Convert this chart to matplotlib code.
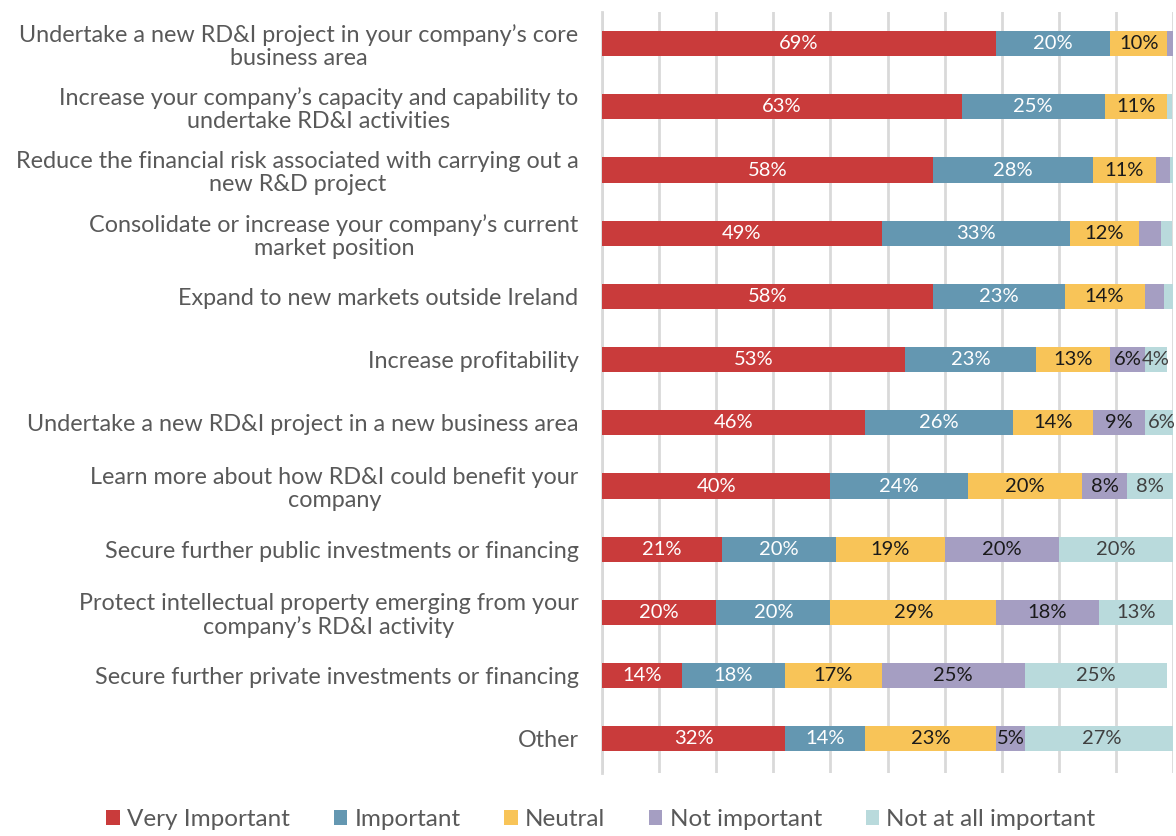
import numpy as np
import matplotlib
matplotlib.use("Agg")
import matplotlib.pyplot as plt

plt.rcParams['font.family'] = ['Lato', 'DejaVu Sans']

categories = [
    "Undertake a new RD&I project in your company\u2019s core\nbusiness area",
    "Increase your company\u2019s capacity and capability to\nundertake RD&I activities",
    "Reduce the financial risk associated with carrying out a\nnew R&D project",
    "Consolidate or increase your company\u2019s current\nmarket position",
    "Expand to new markets outside Ireland",
    "Increase profitability",
    "Undertake a new RD&I project in a new business area",
    "Learn more about how RD&I could benefit your\ncompany",
    "Secure further public investments or financing",
    "Protect intellectual property emerging from your\ncompany\u2019s RD&I activity",
    "Secure further private investments or financing",
    "Other",
]

series_names = ["Very Important", "Important", "Neutral", "Not important", "Not at all important"]

very_important = [69, 63, 58, 49, 58, 53, 46, 40, 21, 20, 14, 32]
important = [20, 25, 28, 33, 23, 23, 26, 24, 20, 20, 18, 14]
neutral = [10, 11, 11, 12, 14, 13, 14, 20, 19, 29, 17, 23]
not_important = [1.4, 0, 2.5, 3.9, 3.5, 6, 9, 8, 20, 18, 25, 5]
not_at_all = [0.3, 0.8, 0.5, 2.0, 1.5, 4, 6, 8, 20, 13, 25, 27]

colors = ["#C93B3B", "#6497B1", "#F8C458", "#A59EC2", "#B9DADC"]
text_colors = ["white", "white", "#1a1a1a", "#1a1a1a", "#404040"]

data = [very_important, important, neutral, not_important, not_at_all]

fig = plt.figure(figsize=(11.76, 8.36), dpi=100)
ax = fig.add_axes([0.512, 0.0754, 0.4855, 0.9102])

y = np.arange(len(categories))
left = np.zeros(len(categories))
for vals, name, col, tcol in zip(data, series_names, colors, text_colors):
    vals = np.array(vals, dtype=float)
    bars = ax.barh(y, vals, left=left, height=0.4, color=col, label=name, zorder=3)
    for b, v in zip(bars, vals):
        if v >= 4:
            ax.text(b.get_x() + b.get_width() / 2, b.get_y() + b.get_height() / 2,
                    f"{v:.0f}%", ha='center', va='center', color=tcol,
                    fontsize=14.5, zorder=4)
    left += vals

ax.set_xlim(0, 100)
ax.set_ylim(len(categories) - 0.46, -0.5)
ax.set_xticks(np.arange(0, 101, 10))
ax.set_xticklabels([])
ax.tick_params(axis='x', length=0)
ax.tick_params(axis='y', length=0, pad=17)
ax.set_yticks(y)
ax.set_yticklabels(categories, fontsize=16.8, color="#595959", linespacing=1.12)
for lab in ax.get_yticklabels():
    lab.set_multialignment('center')

ax.grid(axis='x', color="#D9D9D9", linewidth=2, zorder=0)
for s in ['top', 'right', 'bottom']:
    ax.spines[s].set_visible(False)
ax.spines['left'].set_color("#D9D9D9")
ax.spines['left'].set_linewidth(2)

fig.legend(loc='center', bbox_to_anchor=(0.511, 0.02), ncol=5, frameon=False,
           fontsize=17.5, labelcolor="#595959", handlelength=0.55, handleheight=0.55,
           handletextpad=0.3, columnspacing=1.8)

fig.savefig("out.png", dpi=100)
